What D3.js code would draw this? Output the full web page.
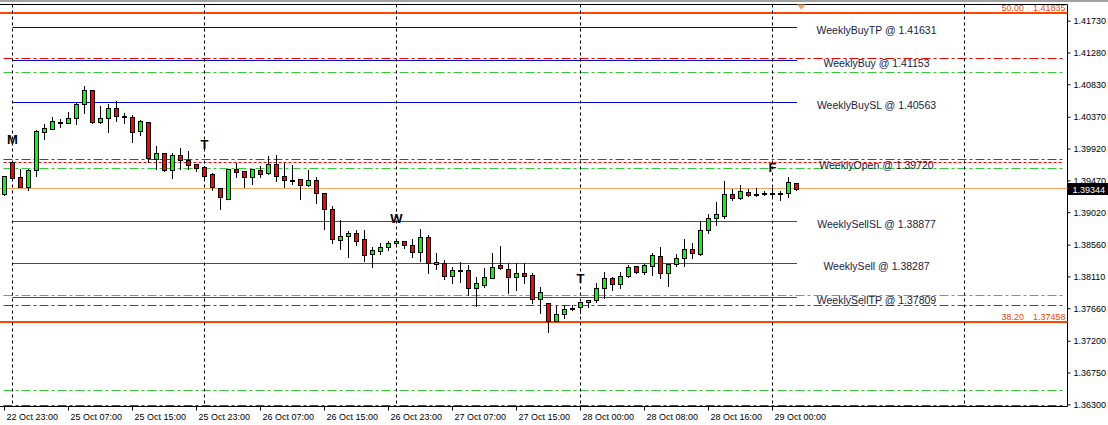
<!DOCTYPE html>
<html>
<head>
<meta charset="utf-8">
<script src="https://cdn.jsdelivr.net/npm/d3@7/dist/d3.min.js"></script>
<style>
  html, body { margin: 0; padding: 0; background: #ffffff; }
  svg { display: block; }
  text { font-family: "Liberation Sans", Arial, sans-serif; }
</style>
</head>
<body>
<script>
// ---------------- DATA ----------------
const opens  = [1.39273,1.39726,1.39517,1.39380,1.39617,1.40159,1.40201,1.40292,1.40282,1.40348,
                1.40551,1.40745,1.40292,1.40348,1.40490,1.40377,1.40363,1.40164,1.40292,1.39776,
                1.39853,1.39612,1.39825,1.39758,1.39697,1.39655,1.39560,1.39357,1.39210,1.39626,
                1.39598,1.39513,1.39617,1.39570,1.39697,1.39527,1.39482,1.39485,1.39400,1.39471,
                1.39287,1.39060,1.38621,1.38678,1.38720,1.38636,1.38423,1.38466,1.38522,1.38579,
                1.38607,1.38551,1.38451,1.38664,1.38286,1.38296,1.38120,1.38195,1.38197,1.37942,
                1.37993,1.38083,1.38272,1.38219,1.38097,1.38154,1.38126,1.37786,1.37730,1.37483,
                1.37574,1.37664,1.37673,1.37744,1.37780,1.37942,1.38083,1.37998,1.38112,1.38253,
                1.38168,1.38253,1.38395,1.38154,1.38282,1.38367,1.38494,1.38423,1.38763,1.38933,
                1.38961,1.39273,1.39216,1.39301,1.39277,1.39284,1.39285,1.39289,1.39287,1.39428];
const highs  = [1.39535,1.39734,1.39626,1.39626,1.40183,1.40268,1.40363,1.40343,1.40433,1.40561,
                1.40806,1.40749,1.40518,1.40551,1.40598,1.40428,1.40395,1.40324,1.40296,1.39956,
                1.39857,1.39857,1.39928,1.39881,1.39701,1.39673,1.39574,1.39362,1.39631,1.39720,
                1.39607,1.39631,1.39673,1.39815,1.39825,1.39720,1.39687,1.39489,1.39617,1.39513,
                1.39291,1.39107,1.38909,1.38749,1.38767,1.38767,1.38522,1.38587,1.38607,1.38626,
                1.38612,1.38636,1.38777,1.38696,1.38437,1.38342,1.38248,1.38310,1.38267,1.38097,
                1.38225,1.38446,1.38541,1.38304,1.38296,1.38296,1.38154,1.37964,1.37734,1.37691,
                1.37701,1.37710,1.37748,1.37783,1.38013,1.38168,1.38097,1.38168,1.38267,1.38258,
                1.38282,1.38442,1.38522,1.38286,1.38423,1.38636,1.38579,1.38890,1.38989,1.39159,
                1.39457,1.39343,1.39400,1.39343,1.39357,1.39315,1.39357,1.39315,1.39513,1.39432];
const lows   = [1.39265,1.39475,1.39376,1.39333,1.39536,1.40055,1.40197,1.40229,1.40278,1.40268,
                1.40419,1.40282,1.40278,1.40159,1.40314,1.40278,1.40009,1.40112,1.39726,1.39631,
                1.39598,1.39508,1.39635,1.39631,1.39607,1.39499,1.39333,1.39069,1.39202,1.39522,
                1.39372,1.39418,1.39513,1.39564,1.39461,1.39380,1.39414,1.39206,1.39397,1.39145,
                1.38786,1.38579,1.38502,1.38389,1.38559,1.38324,1.38248,1.38423,1.38484,1.38541,
                1.38517,1.38389,1.38333,1.38154,1.38211,1.38073,1.38013,1.38031,1.37843,1.37691,
                1.37964,1.38081,1.38219,1.37880,1.37914,1.38013,1.37730,1.37588,1.37328,1.37479,
                1.37517,1.37635,1.37596,1.37673,1.37744,1.37800,1.37914,1.37942,1.38109,1.38165,
                1.38140,1.38126,1.38083,1.37970,1.38253,1.38253,1.38367,1.38420,1.38720,1.38834,
                1.38933,1.39188,1.39206,1.39248,1.39244,1.39258,1.39230,1.39188,1.39230,1.39340];
const closes = [1.39527,1.39508,1.39380,1.39617,1.40173,1.40207,1.40310,1.40300,1.40348,1.40547,
                1.40745,1.40292,1.40348,1.40490,1.40377,1.40367,1.40159,1.40306,1.39782,1.39853,
                1.39612,1.39825,1.39754,1.39683,1.39638,1.39536,1.39372,1.39230,1.39626,1.39592,
                1.39513,1.39626,1.39556,1.39701,1.39527,1.39479,1.39476,1.39400,1.39471,1.39287,
                1.39069,1.38636,1.38678,1.38720,1.38616,1.38409,1.38480,1.38522,1.38579,1.38607,
                1.38548,1.38451,1.38664,1.38296,1.38310,1.38120,1.38197,1.38188,1.37942,1.38013,
                1.38097,1.38248,1.38233,1.38097,1.38154,1.38112,1.37786,1.37885,1.37483,1.37574,
                1.37645,1.37670,1.37744,1.37772,1.37942,1.38083,1.37998,1.38112,1.38239,1.38168,
                1.38267,1.38409,1.38154,1.38282,1.38367,1.38494,1.38437,1.38763,1.38933,1.38989,
                1.39273,1.39216,1.39315,1.39258,1.39268,1.39290,1.39289,1.39287,1.39442,1.39344];

const xTickIdx    = [0, 8, 16, 24, 32, 40, 48, 56, 64, 72, 80, 88, 96];
const xTickLabels = ["22 Oct 23:00","25 Oct 07:00","25 Oct 15:00","25 Oct 23:00","26 Oct 07:00",
                     "26 Oct 15:00","26 Oct 23:00","27 Oct 07:00","27 Oct 15:00","28 Oct 00:00",
                     "28 Oct 08:00","28 Oct 16:00","29 Oct 00:00"];
const yTicks = [1.41730,1.41280,1.40830,1.40370,1.39920,1.39470,1.39020,1.38560,1.38110,1.37660,1.37200,1.36750,1.36300];

// day separators (bar index) and day letters (bar index, price of baseline)
const separatorIdx = [1, 25, 49, 72, 96, 120];
const dayLetters   = ["M","T","W","T","F"];
const dayLetterIdx = [1, 25, 49, 72, 96];
const dayLetterPx  = [1.39985, 1.39914, 1.38866, 1.38017, 1.39588];

// weekly levels (solid lines with centred labels)
const weeklyNames  = ["WeeklyBuyTP","WeeklyBuy","WeeklyBuySL","WeeklySellSL","WeeklySell","WeeklySellTP"];
const weeklyPrices = [1.41631, 1.41153, 1.40563, 1.38877, 1.38287, 1.37809];
const weeklyKind   = ["buy","buy","buy","sell","sell","sell"];
const weeklyOpen   = 1.39720;

// dash-dot pivot style levels
const redDashDot   = [1.41184, 1.39762, 1.37687, 1.36280];
const greenDashDot = [1.40990, 1.39626, 1.37829, 1.36484];

// fibonacci levels
const fibLevels = ["50.00", "38.20"];
const fibPrices = [1.41835, 1.37458];

const lastPrice = 1.39344;

// ---------------- LAYOUT ----------------
const W = 1108, H = 425;
const plotRight = 1067.5, plotTop = 4.5, plotBottom = 406.5;

const svg = d3.select("body").append("svg").attr("width", W).attr("height", H);
svg.append("rect").attr("width", W).attr("height", H).attr("fill", "#ffffff");
svg.append("rect").attr("x", 0).attr("y", 0).attr("width", W).attr("height", 2).attr("fill", "#a0a0a0");

const x = d3.scaleLinear().domain([0, 132]).range([4.5, 4.5 + 8 * 132]);
const y = d3.scaleLinear().domain([1.36300, 1.41730]).range([404.3, 20.7]);
const py = v => Math.round(y(v)) - 0.5;

const n = closes.length;
const labelIdx = 109;      // centre of weekly labels (bar index)
const lineEndIdx = 132.3;  // end of dash-dot lines

// frame (drawn first so level lines can sit on it)
svg.append("line").attr("x1", 0).attr("x2", plotRight).attr("y1", plotTop).attr("y2", plotTop).attr("stroke", "#000");
svg.append("line").attr("x1", plotRight).attr("x2", plotRight).attr("y1", plotTop).attr("y2", plotBottom).attr("stroke", "#000");
svg.append("line").attr("x1", 0).attr("x2", plotRight).attr("y1", plotBottom).attr("y2", plotBottom).attr("stroke", "#000");

const g = svg.append("g");

// dash-dot levels
g.selectAll(".rdd").data(redDashDot).join("line")
  .attr("x1", x(0) - 1).attr("x2", x(lineEndIdx))
  .attr("y1", py).attr("y2", py)
  .attr("stroke", "#ff0000").attr("stroke-width", 1).attr("stroke-dasharray", "9,3,3,3");
g.selectAll(".gdd").data(greenDashDot).join("line")
  .attr("x1", x(0) - 1).attr("x2", x(lineEndIdx))
  .attr("y1", py).attr("y2", py)
  .attr("stroke", "#32cd32").attr("stroke-width", 1).attr("stroke-dasharray", "9,3,3,3");

// weekly open dotted
g.append("line").attr("x1", x(0) - 1).attr("x2", x(lineEndIdx))
  .attr("y1", py(weeklyOpen)).attr("y2", py(weeklyOpen))
  .attr("stroke", "#ff0000").attr("stroke-width", 1).attr("stroke-dasharray", "3,2");

// weekly solid levels
g.selectAll(".wl").data(weeklyPrices).join("line")
  .attr("x1", x(1)).attr("x2", x(n - 1) + 0.5)
  .attr("y1", py).attr("y2", py)
  .attr("stroke", (d, i) => weeklyKind[i] === "buy" ? "#0000c8" : "#ff0000")
  .attr("stroke-width", 1);

// current price line
g.append("line").attr("x1", 0).attr("x2", plotRight)
  .attr("y1", py(lastPrice)).attr("y2", py(lastPrice))
  .attr("stroke", "#f4a460").attr("stroke-width", 1);

// fib lines
g.selectAll(".fib").data(fibPrices).join("line")
  .attr("x1", 0).attr("x2", plotRight)
  .attr("y1", d => Math.round(y(d))).attr("y2", d => Math.round(y(d)))
  .attr("stroke", "#ff4500").attr("stroke-width", 2);

// separators
g.selectAll(".sep").data(separatorIdx).join("line")
  .attr("x1", d => Math.floor(x(d)) + 0.5).attr("x2", d => Math.floor(x(d)) + 0.5)
  .attr("y1", plotTop).attr("y2", plotBottom)
  .attr("stroke", "#000").attr("stroke-width", 1).attr("stroke-dasharray", "3,3");

// candles
const idx = d3.range(n);
const cg = svg.append("g");
cg.selectAll(".wick").data(idx).join("line")
  .attr("x1", i => Math.floor(x(i)) + 0.5).attr("x2", i => Math.floor(x(i)) + 0.5)
  .attr("y1", i => Math.round(y(highs[i]))).attr("y2", i => Math.round(y(lows[i])) + 1)
  .attr("stroke", "#000").attr("stroke-width", 1);
cg.selectAll(".body").data(idx).join("rect")
  .attr("x", i => Math.floor(x(i)) - 1.5)
  .attr("width", 4)
  .attr("y", i => Math.round(y(Math.max(opens[i], closes[i]))) + 0.5)
  .attr("height", i => Math.max(1, Math.round(y(Math.min(opens[i], closes[i]))) - Math.round(y(Math.max(opens[i], closes[i])))))
  .attr("fill", i => closes[i] >= opens[i] ? "#00ff00" : "#ff0000")
  .attr("stroke", "#000").attr("stroke-width", 1);

// day letters
svg.selectAll(".day").data(dayLetters).join("text")
  .attr("x", (d, i) => Math.floor(x(dayLetterIdx[i])) + 0.5)
  .attr("y", (d, i) => y(dayLetterPx[i]))
  .attr("text-anchor", "middle")
  .attr("font-size", 13).attr("font-weight", "bold").attr("fill", "#000")
  .text(d => d);

// weekly labels
const allNames  = weeklyNames.slice(0, 3).concat(["WeeklyOpen"], weeklyNames.slice(3));
const allPrices = weeklyPrices.slice(0, 3).concat([weeklyOpen], weeklyPrices.slice(3));
svg.selectAll(".wlab").data(allNames).join("text")
  .attr("x", x(labelIdx))
  .attr("y", (d, i) => y(allPrices[i]) + 6)
  .attr("text-anchor", "middle")
  .attr("font-size", 10.5).attr("fill", "#1a1a40")
  .text((d, i) => d + " @ " + d3.format(".5f")(allPrices[i]));

// fib labels
svg.selectAll(".fibl").data(fibLevels).join("text")
  .attr("x", 1024).attr("y", (d, i) => y(fibPrices[i]) - 2.5)
  .attr("text-anchor", "end").attr("font-size", 9).attr("fill", "#ff4500")
  .text(d => d);
svg.selectAll(".fibp").data(fibPrices).join("text")
  .attr("x", 1065.5).attr("y", d => y(d) - 2.5)
  .attr("text-anchor", "end").attr("font-size", 9).attr("fill", "#ff4500")
  .text(d => d3.format(".5f")(d));

// chart shift marker
const mx = x(99.6);
svg.append("path")
  .attr("d", `M${mx - 4.5},4.5 L${mx + 4.5},4.5 L${mx},9.5 Z`)
  .attr("fill", "#f4a460");

// right axis
const yAxis = d3.axisRight(y).tickValues(yTicks).tickSize(3).tickPadding(3).tickFormat(d3.format(".5f"));
const ya = svg.append("g").attr("transform", `translate(${plotRight},0)`).call(yAxis);
ya.select(".domain").remove();
ya.selectAll("text").attr("font-size", 9).attr("font-family", "Liberation Sans, Arial, sans-serif").attr("fill", "#000");
ya.selectAll("line").attr("stroke", "#000");

// bottom axis
const xAxis = d3.axisBottom(x).tickValues(xTickIdx).tickSize(4).tickPadding(3)
  .tickFormat((d, i) => xTickLabels[i]);
const xa = svg.append("g").attr("transform", `translate(0,${plotBottom})`).call(xAxis);
xa.select(".domain").remove();
xa.selectAll(".tick").attr("transform", d => `translate(${Math.floor(x(d)) + 0.5},0)`);
xa.selectAll("text").attr("text-anchor", "start").attr("x", 2).attr("dy", "0.71em")
  .attr("font-size", 9).attr("font-family", "Liberation Sans, Arial, sans-serif").attr("fill", "#000");
xa.selectAll("line").attr("stroke", "#000");

// last price box
const lp = svg.append("g");
lp.append("rect").attr("x", plotRight + 0.5).attr("y", Math.round(y(lastPrice)) - 6).attr("width", W - plotRight).attr("height", 12).attr("fill", "#000");
lp.append("text").attr("x", plotRight + 5).attr("y", Math.round(y(lastPrice)) + 3.5)
  .attr("font-size", 9).attr("fill", "#fff").text(d3.format(".5f")(lastPrice));
</script>
</body>
</html>
